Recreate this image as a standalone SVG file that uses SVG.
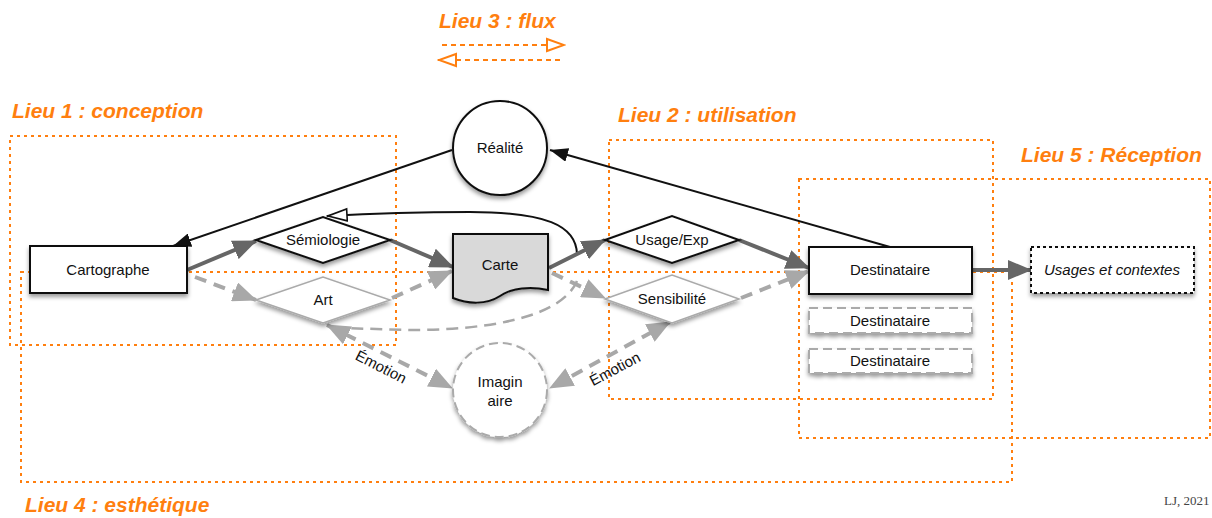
<svg xmlns="http://www.w3.org/2000/svg" width="1212" height="518" viewBox="0 0 1212 518">
<style>
.zone{fill:none;stroke:#FF7F0F;stroke-width:2;stroke-dasharray:3 4}
.zlabel{font-family:"Liberation Sans",Arial,sans-serif;font-size:21px;font-weight:bold;font-style:italic;fill:#FF7F0F}
.t{font-family:"Liberation Sans",Arial,sans-serif;font-size:15px;fill:#111;text-anchor:middle}
.box{fill:#fff;stroke:#111;stroke-width:2}
.dbox{fill:#fff;stroke:#aaa;stroke-width:2;stroke-dasharray:9 5}
.dark{fill:none;stroke:#666;stroke-width:4}
.light{fill:none;stroke:#a8a8a8;stroke-width:4;stroke-dasharray:12 8}
.blk{fill:none;stroke:#111;stroke-width:2}
</style>
<defs>
<filter id="sh" x="-20%" y="-20%" width="140%" height="160%">
<feDropShadow dx="0" dy="3" stdDeviation="2.2" flood-color="#000" flood-opacity="0.4"/>
</filter>
<marker id="aDark" viewBox="0 0 24 20" refX="23" refY="10" markerWidth="24" markerHeight="20" markerUnits="userSpaceOnUse" orient="auto">
<path d="M0,0 L24,10 L0,20 z" fill="#666"/>
</marker>
<marker id="aLight" viewBox="0 0 24 20" refX="23" refY="10" markerWidth="24" markerHeight="20" markerUnits="userSpaceOnUse" orient="auto-start-reverse">
<path d="M0,0 L24,10 L0,20 z" fill="#a8a8a8"/>
</marker>
<marker id="aBlack" viewBox="0 0 18 14" refX="18" refY="7" markerWidth="18" markerHeight="14" markerUnits="userSpaceOnUse" orient="auto">
<path d="M0,0 L18,7 L0,14 z" fill="#111"/>
</marker>
<marker id="aOpen" viewBox="0 0 22 16" refX="21" refY="8" markerWidth="22" markerHeight="16" markerUnits="userSpaceOnUse" orient="auto">
<path d="M1,2 L20,8 L1,14 z" fill="#fff" stroke="#111" stroke-width="1.6"/>
</marker>
<marker id="aOrange" viewBox="0 0 20 16" refX="19" refY="8" markerWidth="20" markerHeight="16" markerUnits="userSpaceOnUse" orient="auto">
<path d="M1,2 L18,8 L1,14 z" fill="#fff" stroke="#FF7F0F" stroke-width="2"/>
</marker>
</defs>
<rect width="1212" height="518" fill="#fff"/>

<g id="zones">
<rect class="zone" x="10" y="136" width="386" height="209"/>
<rect class="zone" x="21" y="272" width="991" height="210"/>
<rect class="zone" x="609" y="140" width="384" height="259"/>
<rect class="zone" x="799" y="179" width="411" height="259"/>
<text class="zlabel" x="12" y="118">Lieu 1 : conception</text>
<text class="zlabel" x="618" y="122">Lieu 2 : utilisation</text>
<text class="zlabel" x="439" y="28">Lieu 3 : flux</text>
<text class="zlabel" x="25" y="512">Lieu 4 : esthétique</text>
<text class="zlabel" x="1021" y="162">Lieu 5 : Réception</text>
<line x1="442" y1="45" x2="565" y2="45" stroke="#FF7F0F" stroke-width="2" stroke-dasharray="5 4" marker-end="url(#aOrange)"/>
<line x1="560" y1="60" x2="438" y2="60" stroke="#FF7F0F" stroke-width="2" stroke-dasharray="5 4" marker-end="url(#aOrange)"/>
</g>

<g id="connectors">
<line class="blk" x1="452" y1="150" x2="173" y2="246" marker-end="url(#aBlack)"/>
<line class="blk" x1="890" y1="247" x2="550" y2="150" marker-end="url(#aBlack)"/>
<path class="blk" d="M577,254 C576,225 545,212 470,212 C420,212 380,213 327,216" marker-end="url(#aOpen)"/>
<line class="dark" x1="187" y1="270" x2="256" y2="241" marker-end="url(#aDark)"/>
<line class="dark" x1="390" y1="240" x2="453" y2="267" marker-end="url(#aDark)"/>
<line class="dark" x1="549" y1="268" x2="605" y2="240" marker-end="url(#aDark)"/>
<line class="dark" x1="739" y1="240" x2="809" y2="268" marker-end="url(#aDark)"/>
<line class="dark" x1="972" y1="270" x2="1031" y2="270" marker-end="url(#aDark)"/>
<line class="light" x1="195" y1="277" x2="256" y2="300" marker-end="url(#aLight)"/>
<line class="light" x1="392" y1="298" x2="452" y2="271" marker-end="url(#aLight)"/>
<line class="light" x1="552" y1="273" x2="605" y2="298" marker-end="url(#aLight)"/>
<line class="light" x1="741" y1="298" x2="809" y2="271" marker-end="url(#aLight)"/>
<path d="M577,281 C560,320 480,330 410,330 L340,328" fill="none" stroke="#a8a8a8" stroke-width="2.5" stroke-dasharray="12 7"/>
<line class="light" x1="327" y1="325" x2="452" y2="388" stroke-dasharray="16 9" marker-start="url(#aLight)" marker-end="url(#aLight)"/>
<line class="light" x1="670" y1="322" x2="550" y2="388" stroke-dasharray="16 9" marker-start="url(#aLight)" marker-end="url(#aLight)"/>
<text class="t" x="381" y="372" transform="rotate(27 381 367)">Émotion</text>
<text class="t" x="615" y="374" transform="rotate(-28 615 369)">Émotion</text>
</g>

<g id="realite">
<circle cx="500" cy="148" r="47" class="box" filter="url(#sh)"/>
<text class="t" x="500" y="153">Réalité</text>
</g>
<g id="cartographe">
<rect x="30" y="246" width="157" height="47" class="box" filter="url(#sh)"/>
<text class="t" x="108" y="275">Cartographe</text>
</g>
<g id="semiologie">
<polygon points="256,240 323,217 390,240 323,263" class="box" filter="url(#sh)"/>
<text class="t" x="323" y="245">Sémiologie</text>
</g>
<g id="art">
<polygon points="256,300 323,277 390,300 323,323" fill="#fff" stroke="#aaa" stroke-width="1.5" filter="url(#sh)"/>
<text class="t" x="323" y="305">Art</text>
</g>
<g id="carte">
<path d="M453,234 H548 V290 C530,286 512,288 500,296 C486,305 468,304 453,298 Z" fill="#d9d9d9" stroke="#111" stroke-width="2" filter="url(#sh)"/>
<text class="t" x="500" y="270">Carte</text>
</g>
<g id="usage">
<polygon points="605,240 672,216 739,240 672,263" class="box" filter="url(#sh)"/>
<text class="t" x="672" y="245">Usage/Exp</text>
</g>
<g id="sensibilite">
<polygon points="605,299 672,275 739,299 672,323" fill="#fff" stroke="#aaa" stroke-width="1.5" filter="url(#sh)"/>
<text class="t" x="672" y="304">Sensibilité</text>
</g>
<g id="destinataire">
<rect x="809" y="247" width="163" height="47" class="box" filter="url(#sh)"/>
<text class="t" x="890" y="275">Destinataire</text>
</g>
<g id="destinataire2">
<rect x="809" y="308" width="163" height="25" class="dbox" filter="url(#sh)"/>
<text class="t" x="890" y="326">Destinataire</text>
</g>
<g id="destinataire3">
<rect x="809" y="349" width="163" height="24" class="dbox" filter="url(#sh)"/>
<text class="t" x="890" y="366">Destinataire</text>
</g>
<g id="usages">
<rect x="1031" y="247" width="163" height="46" fill="#fff" stroke="#111" stroke-width="2" stroke-dasharray="3 3" filter="url(#sh)"/>
<text class="t" x="1112" y="275" font-style="italic">Usages et contextes</text>
</g>
<g id="imaginaire">
<circle cx="500" cy="390" r="47" fill="#fff" stroke="#aaa" stroke-width="2" stroke-dasharray="9 5" filter="url(#sh)"/>
<text class="t" x="500" y="387">Imagin</text>
<text class="t" x="500" y="406">aire</text>
</g>
<text x="1164" y="505" font-family="Liberation Serif,serif" font-size="13" fill="#444">LJ, 2021</text>
</svg>
